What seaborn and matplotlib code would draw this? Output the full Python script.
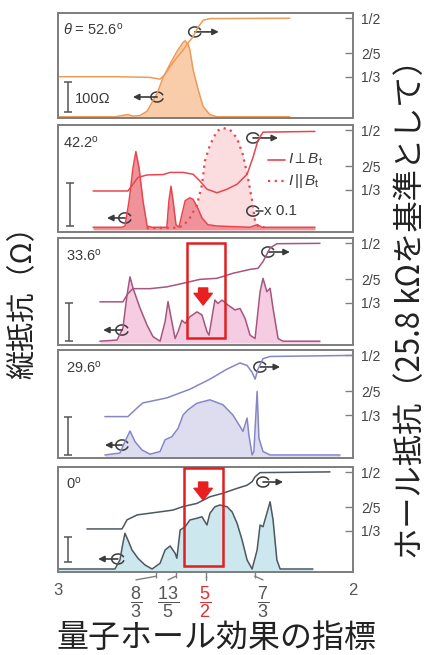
import matplotlib
matplotlib.use('Agg')
import matplotlib.pyplot as plt
import matplotlib.transforms as mtransforms
from matplotlib.patches import Rectangle, Arc
import seaborn as sns

# x は充填率 nu (3 -> 2)、左軸は縦抵抗 (Ω)、右軸はホール抵抗 (h/e^2 単位)
p1_rxx_nu = [3.000, 2.807, 2.783, 2.763, 2.746, 2.722, 2.698, 2.664, 2.644, 2.620, 2.597,
             2.576, 2.569, 2.559, 2.553, 2.542, 2.525, 2.508, 2.485, 2.461, 2.214]
p1_rxx = [4, 4, 8, 11, 6, 8, 22, 80, 130, 175, 215, 245, 250, 240, 221, 156, 92, 37, 11, 4, 4]
p1_hall_nu = [3.000, 2.800, 2.688, 2.654, 2.637, 2.620, 2.597, 2.576, 2.559, 2.542, 2.525,
              2.508, 2.485, 2.214]
p1_hall = [0.333, 0.333, 0.331, 0.326, 0.340, 0.362, 0.388, 0.409, 0.430, 0.447, 0.475,
           0.494, 0.499, 0.500]

p2_rxx_nu = [2.881, 2.783, 2.773, 2.759, 2.746, 2.736, 2.725, 2.712, 2.698, 2.681, 2.631,
             2.624, 2.617, 2.610, 2.600, 2.590, 2.580, 2.569, 2.553, 2.542, 2.529, 2.512,
             2.492, 2.461, 2.349, 2.325, 2.308, 2.129]
p2_rxx = [6, 6, 9, 68, 144, 183, 144, 68, 9, 6, 6, 68, 102, 68, 12, 6, 36, 68, 75, 71, 55,
          28, 12, 9, 6, 12, 6, 6]
p2_par_nu = [2.700, 2.600, 2.576, 2.553, 2.529, 2.512, 2.502, 2.485, 2.461, 2.441, 2.417,
             2.393, 2.373, 2.356, 2.342, 2.332, 2.322, 2.300]
p2_par = [4, 5, 9, 28, 58, 105, 161, 198, 231, 238, 234, 214, 175, 121, 68, 21, 9, 6]
p2_hall_nu = [2.881, 2.763, 2.746, 2.729, 2.698, 2.644, 2.620, 2.576, 2.542, 2.519, 2.495,
              2.461, 2.427, 2.393, 2.359, 2.339, 2.322, 2.305, 2.129]
p2_hall = [0.330, 0.330, 0.349, 0.368, 0.375, 0.376, 0.382, 0.382, 0.377, 0.358, 0.335,
           0.325, 0.335, 0.349, 0.377, 0.424, 0.472, 0.495, 0.497]

p3_rxx_nu = [2.858, 2.800, 2.780, 2.766, 2.756, 2.746, 2.722, 2.698, 2.678, 2.654, 2.637,
             2.627, 2.614, 2.603, 2.593, 2.580, 2.569, 2.553, 2.529, 2.512, 2.495, 2.488,
             2.475, 2.468, 2.458, 2.444, 2.424, 2.400, 2.383, 2.366, 2.349, 2.332, 2.315,
             2.305, 2.292, 2.281, 2.271, 2.254, 2.237, 2.112]
p3_rxx = [5, 8, 39, 126, 174, 145, 92, 47, 17, 5, 56, 109, 56, 12, 30, 60, 52, 69, 82, 74,
          30, 21, 82, 113, 104, 113, 100, 87, 91, 65, 21, 12, 135, 170, 135, 144, 91, 12, 5, 5]
p3_hall_nu = [2.858, 2.780, 2.763, 2.746, 2.688, 2.631, 2.576, 2.519, 2.461, 2.407, 2.349,
              2.322, 2.305, 2.281, 2.258, 2.112]
p3_hall = [0.336, 0.336, 0.359, 0.373, 0.373, 0.378, 0.388, 0.399, 0.402, 0.416, 0.427,
           0.430, 0.449, 0.487, 0.499, 0.500]

p4_rxx_nu = [2.841, 2.790, 2.773, 2.756, 2.739, 2.715, 2.688, 2.654, 2.637, 2.614, 2.593,
             2.576, 2.559, 2.529, 2.485, 2.441, 2.407, 2.383, 2.373, 2.359, 2.353, 2.342,
             2.336, 2.325, 2.319, 2.305, 2.281, 2.044]
p4_rxx = [5, 10, 40, 68, 40, 18, 7, 14, 45, 53, 75, 110, 124, 141, 150, 137, 110, 80, 67,
          102, 58, 5, 14, 172, 49, 14, 5, 5]
p4_hall_nu = [2.841, 2.763, 2.732, 2.712, 2.631, 2.553, 2.485, 2.427, 2.383, 2.359, 2.342,
              2.332, 2.322, 2.305, 2.281, 2.000]
p4_hall = [0.330, 0.330, 0.354, 0.368, 0.382, 0.406, 0.434, 0.462, 0.479, 0.472, 0.453,
           0.434, 0.462, 0.491, 0.497, 0.500]

p5_rxx_nu = [3.000, 2.807, 2.790, 2.780, 2.773, 2.763, 2.749, 2.729, 2.705, 2.681, 2.654,
             2.637, 2.620, 2.603, 2.597, 2.586, 2.569, 2.553, 2.529, 2.512, 2.495, 2.485,
             2.468, 2.451, 2.427, 2.410, 2.393, 2.376, 2.359, 2.342, 2.325, 2.315, 2.305,
             2.292, 2.281, 2.271, 2.258, 2.247, 2.136]
p5_rxx = [8, 8, 44, 111, 151, 124, 84, 51, 24, 8, 31, 84, 100, 71, 51, 164, 177, 204, 211,
          217, 184, 231, 257, 264, 257, 237, 191, 124, 44, 8, 84, 184, 177, 231, 277, 204,
          44, 8, 8]
p5_hall_nu = [2.902, 2.783, 2.766, 2.732, 2.688, 2.644, 2.610, 2.576, 2.529, 2.485, 2.441,
              2.393, 2.359, 2.342, 2.332, 2.315, 2.078]
p5_hall = [0.338, 0.338, 0.364, 0.378, 0.383, 0.388, 0.392, 0.402, 0.411, 0.430, 0.440,
           0.454, 0.463, 0.473, 0.487, 0.499, 0.501]

angle_labels = [r'$\theta$ = 52.6$^\mathrm{o}$', r'42.2$^\mathrm{o}$', r'33.6$^\mathrm{o}$',
                r'29.6$^\mathrm{o}$', r'0$^\mathrm{o}$']
hall_ticks = [1/2, 2/5, 1/3]
hall_ticklabels = ['1/2', '2/5', '1/3']
nu_ticks = [8/3, 13/5, 5/2, 7/3]
nu_label_pos = [2.736, 2.627, 2.500, 2.305]
nu_ticklabels = [r'$\dfrac{8}{3}$', r'$\dfrac{13}{5}$', r'$\dfrac{5}{2}$', r'$\dfrac{7}{3}$']

sns.set_style('white')
plt.rcParams['font.family'] = ['Liberation Sans', 'Noto Sans CJK JP', 'DejaVu Sans']
plt.rcParams['mathtext.fontset'] = 'custom'
plt.rcParams['mathtext.rm'] = 'Liberation Sans'
plt.rcParams['mathtext.it'] = 'Liberation Sans:italic'
plt.rcParams['mathtext.bf'] = 'Liberation Sans:bold'
JP = ['Noto Sans CJK JP', 'DejaVu Sans']

panels = [
    dict(rxx=(p1_rxx_nu, p1_rxx), hall=(p1_hall_nu, p1_hall), line='#F09A58', fill='#F9CDAA',
         ylim=(0, 340), bar=(2.966, 68), box=None, px=(13, 118),
         loops=[(0.336, 0.20, 0.254), (0.464, 0.82, 0.545)]),
    dict(rxx=(p2_rxx_nu, p2_rxx), hall=(p2_hall_nu, p2_hall), line='#E8464F', fill='#EF9299',
         ylim=(-5, 245), bar=(2.959, 60), box=None, px=(125, 232),
         loops=[(0.227, 0.131, 0.166), (0.661, 0.879, 0.746)]),
    dict(rxx=(p3_rxx_nu, p3_rxx), hall=(p3_hall_nu, p3_hall), line='#A4567F', fill='#F5CCE1',
         ylim=(-5, 276), bar=(2.963, 55), box=(2.563, 2.434, 0.065, 0.953, 0.533, 0.374),
         px=(238, 345), loops=[(0.217, 0.14, 0.153), (0.712, 0.869, 0.786)]),
    dict(rxx=(p4_rxx_nu, p4_rxx), hall=(p4_hall_nu, p4_hall), line='#8686C6', fill='#DEDDF0',
         ylim=(-3, 281), bar=(2.966, 55), box=None, px=(350, 458),
         loops=[(0.217, 0.12, 0.159), (0.685, 0.843, 0.753)]),
    dict(rxx=(p5_rxx_nu, p5_rxx), hall=(p5_hall_nu, p5_hall), line='#4C575E', fill='#CDE7EE',
         ylim=(-4, 416), bar=(2.966, 86), box=(2.573, 2.441, 0.057, 0.99, 0.857, 0.686),
         px=(467, 572), loops=[(0.203, 0.124, 0.136), (0.695, 0.857, 0.763)]),
]

W, H = 430, 655
fig = plt.figure(figsize=(W / 100, H / 100), dpi=100)
frame = '#808080'
dark = '#3a3a3a'


def loop_arrow(ax, x, y, tip):
    arc = Arc((x, y), 0.042, 0.095, theta1=40, theta2=330, transform=ax.transAxes,
              color=dark, lw=1.1, clip_on=False)
    ax.add_patch(arc)
    ax.annotate('', xy=(tip, y), xytext=(x, y), xycoords='axes fraction',
                arrowprops=dict(arrowstyle='-|>', color=dark, lw=1.2, mutation_scale=9,
                                shrinkA=0, shrinkB=0))


axes = []
for i, p in enumerate(panels):
    top, bot = p['px']
    ax = fig.add_axes([58 / W, 1 - bot / H, 295 / W, (bot - top) / H])
    ax2 = ax.twinx()
    axes.append(ax)

    if i == 1:
        ax.fill_between(p2_par_nu, p2_par, color='#FBDCDF', lw=0)
        sns.lineplot(x=p2_par_nu, y=p2_par, ax=ax, color=p['line'], lw=1.6,
                     linestyle=(0, (1, 2)), estimator=None, sort=False)
    nu, r = p['rxx']
    ax.fill_between(nu, r, color=p['fill'], lw=0)
    sns.lineplot(x=nu, y=r, ax=ax, color=p['line'], lw=1.1, estimator=None, sort=False)
    hn, hv = p['hall']
    sns.lineplot(x=hn, y=hv, ax=ax2, color=p['line'], lw=1.1, estimator=None, sort=False)

    ax.set_xlim(3, 2)
    ax.set_ylim(*p['ylim'])
    ax2.set_ylim(0.215, 0.515)
    ax.set_yticks([])
    ax.set_xlabel('')
    ax.set_ylabel('')
    ax2.set_ylabel('')
    ax2.set_yticks(hall_ticks)
    ax2.set_yticklabels(hall_ticklabels)
    ax2.tick_params(axis='y', direction='in', length=6, width=1, color=frame, pad=6,
                    labelsize=10, labelcolor='#444444', right=True)
    for a in (ax, ax2):
        for s in a.spines.values():
            s.set_color(frame)
            s.set_linewidth(1.4)

    # 100Ω のスケールバー
    bx, bc = p['bar']
    ax.errorbar([bx], [bc], yerr=[50], color='#555555', capsize=3, lw=1.1, capthick=1.1)
    if i == 0:
        ax.text(0.058, 0.18, '100Ω', transform=ax.transAxes, fontsize=10.5, color=dark,
                va='center')

    ax.text(0.017 if i < 2 else 0.027, 0.84, angle_labels[i], transform=ax.transAxes,
            fontsize=10.5, color=dark, va='center')

    for lx, ly, tip in p['loops']:
        loop_arrow(ax, lx, ly, tip)

    if p['box'] is not None:
        x0, x1, y0, y1, ay0, ay1 = p['box']
        trans = mtransforms.blended_transform_factory(ax.transData, ax.transAxes)
        ax2.add_patch(Rectangle((x0, y0), x1 - x0, y1 - y0, transform=trans, fill=False,
                                ec='#E02020', lw=1.8, zorder=5))
        ax2.annotate('', xy=(2.508, ay1), xytext=(2.508, ay0),
                     xycoords=trans,
                     arrowprops=dict(arrowstyle='simple,head_length=0.7,head_width=1.1,tail_width=0.55',
                                     color='#E8201F', mutation_scale=12, shrinkA=0, shrinkB=0))

    if i < 4:
        ax.set_xticks([])
        ax2.set_xticks([])

# I ⊥ B / I || B の凡例と x0.1
ax = axes[1]
ax.plot([0.712, 0.769], [0.673, 0.673], transform=ax.transAxes, color=panels[1]['line'], lw=1.2)
ax.plot([0.712, 0.769], [0.477, 0.477], transform=ax.transAxes, color=panels[1]['line'], lw=1.6,
        linestyle=(0, (1, 2)))
ax.text(0.78, 0.673, r'$I\perp B_\mathrm{t}$', transform=ax.transAxes, fontsize=11, color=dark,
        va='center')
ax.text(0.78, 0.477, r'$I\,||\,B_\mathrm{t}$', transform=ax.transAxes, fontsize=11, color=dark,
        va='center')
ax.add_patch(Arc((0.661, 0.196), 0.042, 0.095, theta1=40, theta2=330, transform=ax.transAxes,
                 color=dark, lw=1.1))
ax.plot([0.671, 0.695], [0.196, 0.196], transform=ax.transAxes, color=dark, lw=1.1)
ax.text(0.70, 0.196, 'x 0.1', transform=ax.transAxes, fontsize=11, color=dark, va='center')

# 下段の x 目盛り
ax = axes[4]
ax.set_xticks(nu_ticks)
ax.tick_params(axis='x', direction='out', length=4, width=1, color=frame, labelbottom=False,
               bottom=True)
trans = mtransforms.blended_transform_factory(ax.transData, ax.transAxes)
for t, lp, lab in zip(nu_ticks, nu_label_pos, nu_ticklabels):
    ax.plot([t, lp], [-0.04, -0.075], transform=trans, color=frame, lw=1, clip_on=False)
    ax.text(lp, -0.29, lab, transform=trans, ha='center', va='center', fontsize=13,
            color='#E03030' if t == 5/2 else '#555555')
for v in (3, 2):
    ax.text(v, -0.18, str(v), transform=trans, ha='center', va='center', fontsize=12,
            color='#555555')

fig.text(216 / W, 1 - 638 / H, '量子ホール効果の指標', ha='center', va='center', fontsize=23,
         family=JP, color='#222222')
fig.text(24 / W, 1 - 295 / H, '縦抵抗（Ω）', ha='center', va='center', rotation=90,
         fontsize=21, family=JP, color='#222222')
fig.text(411 / W, 1 - 302 / H, 'ホール抵抗（25.8 kΩを基準として）', ha='center', va='center',
         rotation=90, fontsize=22.5, family=JP, color='#222222')

fig.savefig('out.png', dpi=100)
